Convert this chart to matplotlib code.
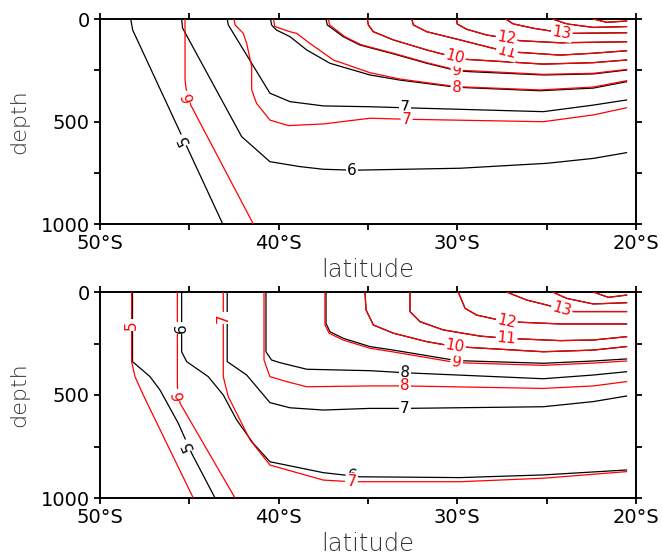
import numpy as np
import matplotlib
matplotlib.use("Agg")
import matplotlib.pyplot as plt

# ---------------- data (latitude in degrees, negative = south; depth in m) -------------
# Upper panel, black contours: level -> (lat, depth)
top_black = {
    5: ([-48.28, -48.17, -43.13], [0, 54, 1000]),
    6: ([-45.43, -45.38, -42.07, -40.49, -38.81, -37.50, -36.00, -35.45, -29.85, -25.00, -22.39, -20.53],
        [0, 44, 574, 696, 720, 733, 737, 737, 728, 704, 680, 652]),
    7: ([-42.88, -42.82, -40.49, -39.37, -37.50, -34.89, -32.93, -25.19, -22.39, -20.53],
        [0, 29, 362, 403, 424, 428, 433, 452, 420, 395]),
    8: ([-40.45, -40.40, -40.12, -39.37, -38.43, -37.13, -34.89, -33.21, -30.04, -25.37, -22.39, -20.53],
        [0, 29, 54, 86, 151, 216, 273, 298, 333, 350, 337, 306]),
    9: ([-37.35, -37.28, -36.39, -35.45, -33.58, -31.71, -30.04, -29.29, -25.19, -22.39, -20.53],
        [0, 29, 86, 127, 170, 216, 252, 257, 273, 268, 249]),
    10: ([-35.04, -34.98, -34.70, -33.58, -31.71, -30.13, -29.48, -25.19, -22.39, -20.53],
         [0, 29, 62, 102, 151, 187, 197, 220, 213, 200]),
    11: ([-32.55, -32.46, -31.71, -29.85, -28.36, -27.24, -24.25, -22.39, -20.53],
         [0, 29, 62, 102, 135, 159, 176, 167, 155]),
    12: ([-30.04, -30.01, -29.48, -28.36, -27.24, -26.49, -24.25, -20.53],
         [0, 24, 50, 78, 94, 106, 116, 111]),
    13: ([-27.29, -26.87, -25.75, -24.16, -23.51, -20.53], [0, 24, 45, 67, 70, 67]),
    14: ([-24.66, -23.88, -22.39, -20.53], [0, 24, 41, 37]),
    15: ([-22.39, -21.64, -20.53], [0, 16, 10]),
}
# Upper panel, red contours
top_red = {
    6: ([-45.24, -45.24, -45.18, -44.92, -41.42], [0, 298, 340, 420, 1000]),
    7: ([-42.50, -42.44, -41.98, -41.79, -41.51, -41.51, -41.24, -40.49, -39.46, -37.50, -34.89, -32.84,
         -25.19, -22.39, -20.53],
        [0, 29, 70, 119, 233, 346, 411, 493, 520, 512, 484, 489, 501, 468, 433]),
    8: ([-40.30, -40.21, -39.37, -38.99, -38.25, -36.94, -34.89, -33.21, -30.04, -25.37, -22.39, -20.53],
        [0, 37, 62, 70, 119, 200, 262, 293, 330, 346, 332, 301]),
    9: ([-37.22, -37.15, -36.30, -35.40, -33.58, -31.71, -30.04, -25.19, -22.39, -20.53],
        [0, 29, 86, 125, 167, 213, 249, 270, 265, 246]),
    10: top_black[10], 11: top_black[11], 12: top_black[12],
    13: top_black[13], 14: top_black[14], 15: top_black[15],
}
# Lower panel, black contours
bot_black = {
    5: ([-48.18, -48.18, -47.20, -46.64, -45.62, -44.87, -43.56], [0, 338, 411, 476, 637, 783, 1000]),
    6: ([-45.43, -45.43, -45.15, -43.94, -43.10, -42.35, -41.43, -40.49, -37.50, -35.45, -29.85, -25.19, -20.53],
        [0, 290, 338, 411, 500, 621, 734, 824, 877, 897, 901, 888, 864]),
    7: ([-42.88, -42.88, -41.79, -40.49, -39.37, -37.50, -34.89, -32.93, -25.19, -22.39, -20.53],
        [0, 338, 403, 537, 562, 573, 565, 565, 557, 532, 505]),
    8: ([-40.71, -40.71, -40.40, -39.93, -38.43, -34.89, -32.93, -25.19, -22.39, -20.53],
        [0, 290, 330, 343, 375, 382, 392, 421, 403, 387]),
    9: ([-37.35, -37.35, -37.13, -36.38, -34.89, -33.58, -30.04, -25.19, -22.39, -20.53],
        [0, 152, 193, 225, 265, 282, 333, 346, 335, 325]),
    10: ([-35.17, -35.11, -34.70, -33.58, -31.71, -30.13, -25.19, -22.39, -20.53],
         [0, 87, 160, 200, 241, 265, 290, 282, 265]),
    11: ([-32.65, -32.65, -32.09, -30.79, -28.73, -27.24, -24.25, -22.39, -20.53],
         [0, 95, 144, 184, 214, 225, 236, 233, 217]),
    12: ([-29.95, -29.76, -29.57, -28.92, -27.24, -24.25, -20.53], [0, 39, 79, 112, 144, 155, 155]),
    13: ([-27.24, -26.12, -25.00, -24.16, -23.51, -20.53], [0, 39, 63, 84, 95, 95]),
    14: ([-24.66, -23.88, -22.39, -20.53], [0, 31, 58, 52]),
    15: ([-22.39, -21.55, -20.53], [0, 26, 15]),
}
# Lower panel, red contours
bot_red = {
    5: ([-48.23, -48.23, -48.04, -47.58, -46.27, -44.78], [0, 338, 411, 500, 734, 1000]),
    6: ([-45.67, -45.67, -45.52, -42.44], [0, 460, 540, 1000]),
    7: ([-43.10, -43.10, -42.82, -41.60, -40.49, -37.50, -35.91, -29.85, -25.19, -20.53],
        [0, 411, 508, 718, 840, 913, 921, 921, 904, 872]),
    8: ([-40.82, -40.82, -40.49, -39.55, -38.43, -34.89, -32.93, -25.19, -22.39, -20.53],
        [0, 330, 411, 435, 460, 456, 456, 468, 456, 435]),
    9: ([-37.41, -37.41, -37.18, -36.40, -34.89, -33.58, -30.04, -25.19, -22.39, -20.53],
        [0, 160, 200, 233, 273, 291, 343, 356, 345, 335]),
    10: bot_black[10], 11: bot_black[11], 12: bot_black[12],
    13: bot_black[13], 14: bot_black[14], 15: bot_black[15],
}
# Contour labels: (level, lat, depth)
top_black_labels = [(5, -45.31, 590), (6, -35.91, 737), (7, -32.93, 433)]
top_red_labels = [(6, -45.05, 379), (7, -32.84, 489), (8, -30.04, 333), (9, -30.04, 252),
                  (10, -30.13, 187), (11, -27.24, 159), (12, -27.24, 94), (13, -24.16, 67)]
bot_black_labels = [(6, -45.43, 176), (5, -45.08, 743), (6, -35.91, 892), (7, -32.93, 565),
                    (8, -32.93, 392), (9, -30.04, 333)]
bot_red_labels = [(5, -48.23, 160), (7, -43.10, 126), (6, -45.60, 500), (7, -35.91, 921),
                  (8, -32.93, 456), (9, -30.04, 343), (10, -30.13, 265), (11, -27.24, 225),
                  (12, -27.24, 144), (13, -24.16, 84)]

x_ticks = [-50, -45, -40, -35, -30, -25, -20]
x_ticklabels = ["50°S", "", "40°S", "", "30°S", "", "20°S"]
y_ticks = [0, 250, 500, 750, 1000]
y_ticklabels = ["0", "", "500", "", "1000"]

# ---------------- drawing -------------
fig = plt.figure(figsize=(6.62, 5.57), dpi=100)
W, H = 662, 557


def make_axes(top_px, bottom_px):
    left, right = 100, 636
    return fig.add_axes([left / W, 1 - bottom_px / H, (right - left) / W, (bottom_px - top_px) / H])


def label_angle(ax, xs, ys, lx, ly):
    pts = ax.transData.transform(np.column_stack([xs, ys]))
    p = ax.transData.transform((lx, ly))
    best, bi = 1e9, 0
    for i in range(len(pts) - 1):
        a, b = pts[i], pts[i + 1]
        d = b - a
        t = np.clip(np.dot(p - a, d) / max(np.dot(d, d), 1e-9), 0, 1)
        dist = np.linalg.norm(a + t * d - p)
        if dist < best:
            best, bi = dist, i
    d = pts[bi + 1] - pts[bi]
    ang = np.degrees(np.arctan2(d[1], d[0]))
    if ang > 90:
        ang -= 180
    elif ang <= -90:
        ang += 180
    if ang < -45:
        ang += 180
    return ang


def draw_panel(ax, black, red, blabels, rlabels):
    ax.set_xlim(-50, -20)
    ax.set_ylim(1000, 0)
    for lev, (xs, ys) in black.items():
        ax.plot(xs, ys, color="black", lw=0.9, zorder=2, solid_joinstyle="round")
    for lev, (xs, ys) in red.items():
        ax.plot(xs, ys, color="red", lw=0.9, zorder=3, solid_joinstyle="round")
    for labels, lines, col in ((blabels, black, "black"), (rlabels, red, "red")):
        for lev, lx, ly in labels:
            xs, ys = lines[lev]
            ang = label_angle(ax, xs, ys, lx, ly)
            ax.text(lx, ly, str(lev), color=col, fontsize=11, rotation=ang,
                    ha="center", va="center", zorder=5,
                    bbox=dict(boxstyle="square,pad=0.08", fc="white", ec="none"))
    ax.set_xticks(x_ticks)
    ax.set_xticklabels(x_ticklabels)
    ax.set_yticks(y_ticks)
    ax.set_yticklabels(y_ticklabels)
    ax.tick_params(direction="out", length=4.5, width=1.3, labelsize=14, pad=3,
                   top=True, right=True, labeltop=False, labelright=False)
    for s in ax.spines.values():
        s.set_linewidth(1.4)
    ax.set_xlabel("latitude", fontsize=17.5, fontweight="light", color="#333333", labelpad=3)
    ax.set_ylabel("depth", fontsize=16, fontweight="light", color="#333333", labelpad=8)


ax1 = make_axes(19, 224)
draw_panel(ax1, top_black, top_red, top_black_labels, top_red_labels)
ax2 = make_axes(292, 498)
draw_panel(ax2, bot_black, bot_red, bot_black_labels, bot_red_labels)

fig.savefig("out.png", dpi=100)
